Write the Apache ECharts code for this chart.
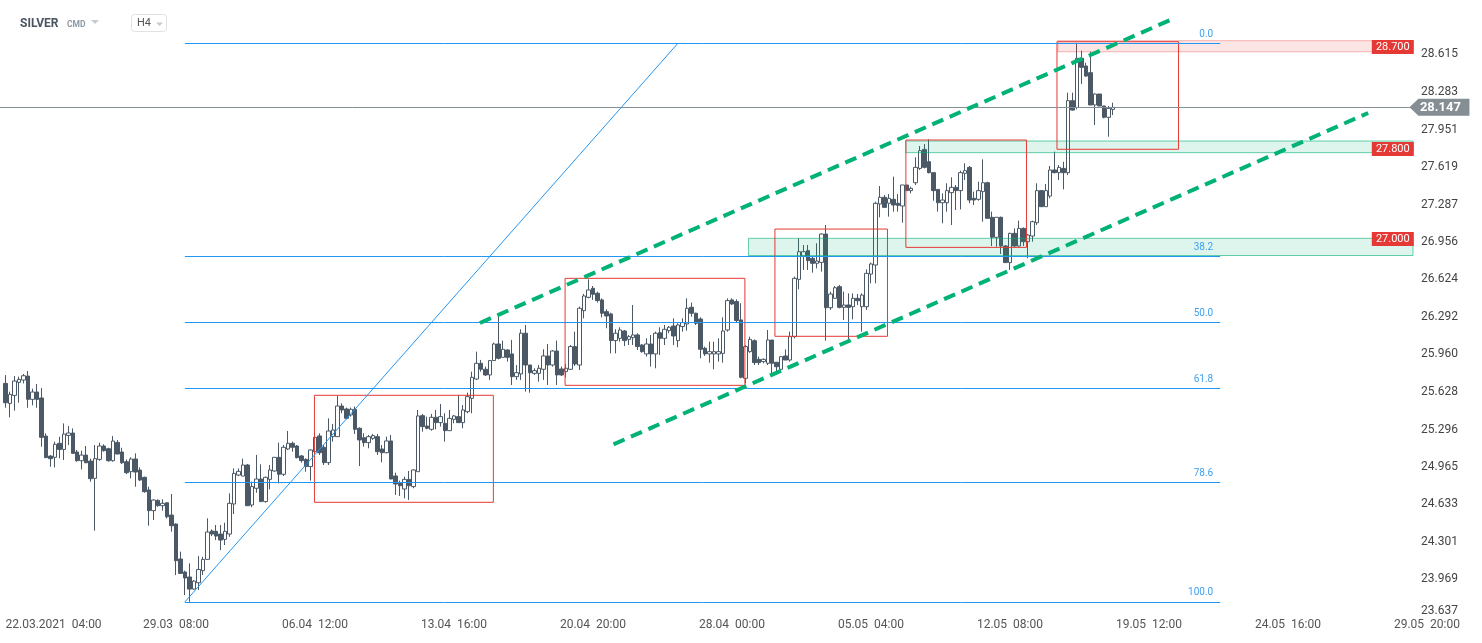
<!DOCTYPE html>
<html><head><meta charset="utf-8">
<script src="https://cdn.jsdelivr.net/npm/echarts@6/dist/echarts.min.js"></script>
<style>html,body{margin:0;padding:0;background:#fff}#c{width:1482px;height:643px}</style>
</head><body><div id="c"></div>
<script>
// ---- candle data (SILVER, H4) ----
const opens = [
25.704,25.527,25.598,25.713,25.734,25.769,25.563,25.628,25.575,25.238,
25.061,25.050,25.174,25.120,25.244,25.265,25.097,25.020,25.070,25.017,
24.864,25.032,25.150,25.126,25.020,25.182,25.097,25.011,24.923,25.035,
24.937,24.873,24.761,24.578,24.669,24.622,24.648,24.539,24.460,24.150,
24.035,23.991,23.884,23.940,24.047,24.147,24.398,24.395,24.371,24.324,
24.371,24.637,24.893,24.884,24.982,24.628,24.776,24.858,24.658,24.855,
24.929,25.050,24.900,25.124,25.174,25.150,25.062,25.032,24.968,25.100,
25.239,25.139,25.003,25.233,25.233,25.504,25.478,25.425,25.475,25.307,
25.224,25.180,25.218,25.233,25.124,25.091,25.195,24.885,24.820,24.770,
24.855,24.791,24.923,25.419,25.327,25.298,25.404,25.357,25.351,25.286,
25.386,25.410,25.357,25.454,25.572,25.743,25.882,25.829,25.779,25.906,
26.053,25.935,26.000,25.965,25.764,25.788,26.148,25.867,25.793,25.793,
25.829,25.947,25.867,25.991,25.832,25.808,25.829,26.030,25.867,26.348,
26.466,26.546,26.502,26.443,26.339,26.319,26.083,26.103,26.168,26.094,
26.109,26.133,26.044,25.965,26.053,25.965,26.153,26.103,26.171,26.212,
26.083,26.207,26.230,26.378,26.325,26.274,26.015,25.965,25.965,25.965,
25.970,26.177,26.443,26.428,26.266,25.749,25.985,26.082,25.917,25.897,
25.882,26.088,25.891,25.829,25.947,25.911,26.118,26.625,26.831,26.879,
26.811,26.767,26.775,27.026,26.374,26.457,26.560,26.377,26.398,26.383,
26.457,26.383,26.383,26.672,26.752,27.292,27.351,27.298,27.333,27.298,
27.274,27.460,27.410,27.480,27.607,27.775,27.666,27.569,27.421,27.303,
27.303,27.392,27.439,27.410,27.563,27.616,27.342,27.333,27.401,27.480,
27.174,26.997,27.174,26.920,26.773,27.032,26.920,27.076,26.958,27.008,
27.126,27.410,27.268,27.362,27.593,27.569,27.607,27.569,28.206,28.147,
28.581,28.513,28.454,28.168,28.265,28.159,28.059,28.129];
const highs = [
25.778,25.631,25.769,25.764,25.787,25.814,25.657,25.699,25.663,25.262,
25.070,25.188,25.232,25.350,25.327,25.306,25.115,25.109,25.150,25.038,
25.159,25.179,25.165,25.135,25.238,25.203,25.135,25.032,25.050,25.085,
24.961,24.879,24.790,24.678,24.678,24.678,24.648,24.725,24.465,24.215,
24.047,24.112,23.964,24.176,24.170,24.510,24.412,24.451,24.451,24.471,
24.731,24.952,24.952,25.038,24.991,24.835,25.071,24.988,24.879,24.982,
25.050,25.180,25.159,25.283,25.189,25.159,25.071,25.041,25.121,25.268,
25.262,25.159,25.395,25.345,25.593,25.528,25.490,25.490,25.499,25.316,
25.263,25.248,25.257,25.257,25.159,25.233,25.248,24.914,24.844,24.879,
24.929,24.944,25.469,25.434,25.410,25.434,25.469,25.522,25.440,25.469,
25.425,25.602,25.513,25.622,25.808,25.985,25.912,25.853,25.912,26.065,
26.295,26.083,26.006,26.089,25.867,26.183,26.221,25.867,25.838,25.867,
26.006,26.053,26.000,26.083,25.853,25.876,26.044,26.162,26.384,26.496,
26.625,26.566,26.516,26.457,26.360,26.330,26.183,26.201,26.177,26.133,
26.398,26.148,26.053,26.103,26.133,26.162,26.201,26.221,26.212,26.280,
26.236,26.280,26.457,26.419,26.330,26.289,26.030,26.074,26.074,26.103,
26.289,26.457,26.457,26.448,26.413,26.044,26.118,26.094,25.941,25.926,
26.177,26.088,25.891,25.947,26.005,26.162,26.649,26.988,26.929,26.929,
26.826,26.944,27.032,27.106,26.516,26.566,26.575,26.516,26.501,26.501,
26.495,26.501,26.713,26.773,27.312,27.451,27.371,27.380,27.534,27.380,
27.460,27.460,27.445,27.705,27.805,27.823,27.864,27.569,27.421,27.386,
27.475,27.528,27.460,27.587,27.652,27.628,27.401,27.489,27.687,27.489,
27.224,27.174,27.180,26.929,27.038,27.076,27.144,27.085,27.026,27.144,
27.475,27.410,27.469,27.628,27.755,27.637,27.666,28.277,28.277,28.719,
28.649,28.542,28.640,28.271,28.265,28.159,28.159,28.188];
const lows = [
25.489,25.404,25.463,25.533,25.704,25.489,25.510,25.489,25.144,25.047,
24.967,24.961,25.041,25.026,25.159,25.085,25.011,24.943,25.002,24.834,
24.401,25.020,25.100,25.011,25.011,25.079,24.991,24.902,24.864,24.790,
24.840,24.737,24.445,24.495,24.613,24.578,24.510,24.392,24.008,24.023,
23.831,23.772,23.876,23.876,24.008,24.147,24.353,24.318,24.229,24.274,
24.347,24.548,24.884,24.884,24.622,24.608,24.737,24.658,24.649,24.767,
24.923,24.820,24.885,25.115,25.100,25.041,25.003,24.923,24.844,25.071,
25.071,24.982,24.982,25.189,25.233,25.440,25.386,25.410,25.257,24.973,
25.145,25.130,25.204,25.071,25.006,25.086,24.858,24.717,24.708,24.687,
24.673,24.776,24.923,25.277,25.298,25.286,25.298,25.322,25.189,25.286,
25.351,25.357,25.307,25.440,25.440,25.735,25.808,25.770,25.735,25.906,
25.917,25.935,25.897,25.690,25.735,25.735,25.631,25.622,25.779,25.720,
25.735,25.690,25.853,25.690,25.770,25.758,25.823,25.858,25.823,26.280,
26.457,26.443,26.419,26.289,26.192,25.970,25.970,26.074,26.035,26.044,
26.044,26.000,25.976,25.941,25.853,25.838,25.956,26.044,26.148,26.044,
26.024,26.162,26.171,26.295,26.221,25.926,25.947,25.888,25.829,25.897,
25.888,26.162,26.398,26.242,25.749,25.705,25.976,25.867,25.867,25.882,
25.867,25.793,25.779,25.823,25.911,25.897,26.103,26.537,26.708,26.708,
26.684,26.722,26.693,26.082,26.354,26.457,26.368,26.265,26.094,26.271,
26.398,26.162,26.354,26.590,26.590,27.174,27.262,27.180,27.224,27.224,
27.126,27.410,27.386,27.460,27.593,27.607,27.563,27.321,27.224,27.121,
27.224,27.106,27.239,27.244,27.504,27.298,27.283,27.321,27.135,27.165,
26.920,26.914,26.849,26.773,26.708,26.914,26.914,26.920,26.811,26.958,
27.106,27.268,27.268,27.342,27.563,27.504,27.421,27.548,28.118,28.129,
28.354,28.418,28.168,27.991,28.159,28.050,27.887,28.079];
const closes = [
25.533,25.607,25.725,25.740,25.772,25.563,25.628,25.563,25.227,25.047,
25.038,25.165,25.120,25.256,25.265,25.085,25.020,25.070,25.002,24.861,
25.038,25.150,25.109,25.020,25.194,25.079,25.002,24.914,25.035,24.920,
24.849,24.746,24.578,24.672,24.622,24.643,24.524,24.445,24.135,24.023,
23.982,23.884,23.955,24.058,24.147,24.389,24.371,24.353,24.318,24.395,
24.643,24.908,24.926,24.982,24.622,24.791,24.858,24.658,24.873,24.938,
25.050,24.900,25.139,25.174,25.139,25.047,25.021,24.968,25.115,25.227,
25.091,25.003,25.283,25.292,25.504,25.469,25.395,25.475,25.298,25.204,
25.180,25.233,25.242,25.100,25.091,25.195,24.858,24.814,24.799,24.855,
24.799,24.938,25.416,25.322,25.307,25.404,25.357,25.410,25.286,25.395,
25.416,25.357,25.469,25.587,25.758,25.882,25.829,25.779,25.906,26.053,
25.926,26.006,25.935,25.764,25.799,26.148,25.867,25.799,25.817,25.838,
25.947,25.867,25.991,25.779,25.779,25.838,26.030,25.876,26.369,26.478,
26.531,26.493,26.437,26.325,26.301,26.083,26.148,26.177,26.083,26.118,
26.133,26.030,25.985,26.053,25.965,26.148,26.103,26.183,26.201,26.124,
26.221,26.242,26.369,26.325,26.236,26.006,25.965,25.985,25.985,25.985,
26.168,26.437,26.407,26.260,25.758,26.030,26.094,25.888,25.888,25.917,
26.088,25.882,25.852,25.941,25.911,26.118,26.634,26.870,26.870,26.790,
26.767,26.787,27.026,26.374,26.495,26.551,26.377,26.398,26.377,26.457,
26.436,26.486,26.678,26.761,27.298,27.351,27.262,27.342,27.283,27.280,
27.460,27.410,27.430,27.616,27.764,27.616,27.569,27.410,27.303,27.327,
27.410,27.439,27.410,27.569,27.587,27.327,27.327,27.410,27.480,27.165,
26.997,27.174,26.920,26.773,27.032,26.920,27.076,26.958,27.017,27.135,
27.410,27.268,27.410,27.593,27.569,27.616,27.569,28.206,28.123,28.581,
28.501,28.424,28.168,28.265,28.159,28.059,28.138,28.147];

// ---- axis ticks ----
const yTicks = [23.637,23.969,24.301,24.633,24.965,25.296,25.628,25.960,26.292,26.624,26.956,27.287,27.619,27.951,28.283,28.615];
const xTickIdx = [0,38,69,100,131,162,193,224,255,286,317];
const xTickLabels = ['22.03.2021  04:00','29.03  08:00','06.04  12:00','13.04  16:00','20.04  20:00','28.04  00:00','05.05  04:00','12.05  08:00','19.05  12:00','24.05  16:00','29.05  20:00'];

// ---- drawing annotations (data coordinates: candle index, price) ----
const lastPrice = 28.147;
const fibHigh = 28.716, fibLow = 23.770;
const fibLevels = [0, 38.2, 50, 61.8, 78.6, 100];
const fibLabels = ['0.0','38.2','50.0','61.8','78.6','100.0'];
const fibX = [40.0, 270.9];
const fibDiagonal = [[40.0, 23.770], [150.0, 28.716]];
const channelLines = [[[105.8, 26.239], [260.8, 28.938]], [[135.6, 25.165], [303.9, 28.097]]];
const zoneBands = [ // [x1, x2, yTop, yBottom, kind]
  [234.7, 313.9, 28.737, 28.639, 'red'],
  [200.8, 313.9, 27.849, 27.746, 'green'],
  [165.7, 313.9, 26.988, 26.836, 'green']];
const boxes = [
  [68.9, 108.8, 25.599, 24.652],
  [124.8, 164.9, 26.634, 25.687],
  [171.6, 196.7, 27.070, 26.121],
  [200.8, 227.7, 27.858, 26.908],
  [234.5, 261.6, 28.728, 27.776]];
const levelTags = [['28.700', 28.681], ['27.800', 27.778], ['27.000', 26.982]];
const tagX = 309.4, lastTagX = 319.8, lastLineEnd = 313.2;

const xMin = -1.2266, xMax = 329.29;
const yMin = 23.637, yMax = 29.097;

const candleData = opens.map((o, i) => [i, o, closes[i], lows[i], highs[i]]);
const CANDLE = '#4b5865';
const BLUE = '#2196f3';

const markLines = [];
fibLevels.forEach((lv, k) => {
  const p = fibHigh - lv / 100 * (fibHigh - fibLow);
  markLines.push([{coord: [fibX[0], p], lineStyle: {color: BLUE, width: 1, type: 'solid'},
      label: {show: true, position: 'insideEndTop', formatter: fibLabels[k], color: '#3ea0f0', fontSize: 10, fontFamily: 'Roboto', distance: [7, 4]}},
    {coord: [fibX[1], p]}]);
});
markLines.push([{coord: fibDiagonal[0], lineStyle: {color: BLUE, width: 1, type: 'solid'}, label: {show: false}}, {coord: fibDiagonal[1]}]);
markLines.push([{coord: [xMin, lastPrice], lineStyle: {color: '#848e93', width: 1, type: 'solid'}, label: {show: false}}, {coord: [lastLineEnd, lastPrice]}]);
channelLines.forEach(l => markLines.push([{coord: l[0], lineStyle: {color: '#00b274', width: 4, type: [12, 7]}, label: {show: false}}, {coord: l[1]}]));

const areaData = [];
zoneBands.forEach(b => {
  const red = b[4] === 'red';
  areaData.push([{coord: [b[0], b[2]], itemStyle: {
      color: red ? 'rgba(229,57,53,0.13)' : 'rgba(0,176,116,0.13)',
      borderColor: red ? 'rgba(229,57,53,0.35)' : 'rgba(0,176,116,0.6)', borderWidth: 1}},
    {coord: [b[1], b[3]]}]);
});
boxes.forEach(b => areaData.push([{coord: [b[0], b[2]], itemStyle: {color: 'rgba(0,0,0,0)', borderColor: '#e53935', borderWidth: 1}}, {coord: [b[1], b[3]]}]));

const pointData = levelTags.map(t => ({coord: [tagX, t[1]], symbol: 'rect', symbolSize: [42, 14],
  itemStyle: {color: '#e53935'},
  label: {show: true, position: 'inside', formatter: t[0], color: '#fff', fontSize: 11, fontFamily: 'Roboto'}}));
pointData.push({coord: [lastTagX, lastPrice], symbol: 'path://M0,8.5L9,0L60,0L60,17L9,17Z', symbolSize: [60, 17], symbolKeepAspect: false,
  itemStyle: {color: '#848e93'},
  label: {show: true, position: 'inside', offset: [1, 0], formatter: String(lastPrice.toFixed(3)), color: '#fff', fontSize: 13, fontWeight: 'bold', fontFamily: 'Roboto'}});

const chart = echarts.init(document.getElementById('c'), null, {renderer: 'canvas'});
chart.setOption({
  animation: false,
  backgroundColor: '#ffffff',
  grid: {left: 0, right: 0, top: 0, bottom: 26, containLabel: false, outerBoundsMode: 'none'},
  xAxis: {
    type: 'value', min: xMin, max: xMax,
    axisLine: {show: false}, axisTick: {show: false}, splitLine: {show: false},
    axisLabel: {customValues: xTickIdx, formatter: v => xTickLabels[xTickIdx.indexOf(Math.round(v))] || '',
      color: '#555', fontSize: 12, fontFamily: 'Roboto', margin: 2, alignMinLabel: 'left'}
  },
  yAxis: {
    type: 'value', position: 'right', min: yMin, max: yMax, scale: true,
    axisLine: {show: false}, axisTick: {show: false}, splitLine: {show: false},
    axisLabel: {inside: true, customValues: yTicks, formatter: v => v.toFixed(3),
      color: '#444', fontSize: 12, fontFamily: 'Roboto', margin: 24, verticalAlignMinLabel: 'bottom'}
  },
  series: [{
    type: 'candlestick', name: 'SILVER', data: candleData, barWidth: 4, z: 2,
    encode: {x: 0, y: [1, 2, 3, 4]},
    itemStyle: {color: '#ffffff', color0: CANDLE, borderColor: CANDLE, borderColor0: CANDLE, borderColorDoji: CANDLE, borderWidth: 1},
    markArea: {silent: true, z: 3, data: areaData},
    markLine: {silent: true, symbol: ['none', 'none'], z: 4, data: markLines},
    markPoint: {silent: true, z: 6, data: pointData}
  }],
  graphic: [
    {type: 'text', left: 20, top: 18, style: {text: 'SILVER', font: 'bold 12px Roboto', fill: '#4a5560'}},
    {type: 'text', left: 67, top: 20, style: {text: 'CMD', font: 'bold 8.5px Roboto', fill: '#8b99a6'}},
    {type: 'polygon', shape: {points: [[91, 20], [99, 20], [95, 24]]}, style: {fill: '#c5ccd2'}},
    {type: 'rect', shape: {x: 131.5, y: 14.5, width: 35, height: 17, r: 3}, style: {fill: '#fff', stroke: '#dfe3e6', lineWidth: 1}},
    {type: 'text', left: 137, top: 18, style: {text: 'H4', font: '11px Roboto', fill: '#555'}},
    {type: 'polygon', shape: {points: [[156, 22.5], [163, 22.5], [159.5, 26]]}, style: {fill: '#c5ccd2'}}
  ]
});
</script>
</body></html>
